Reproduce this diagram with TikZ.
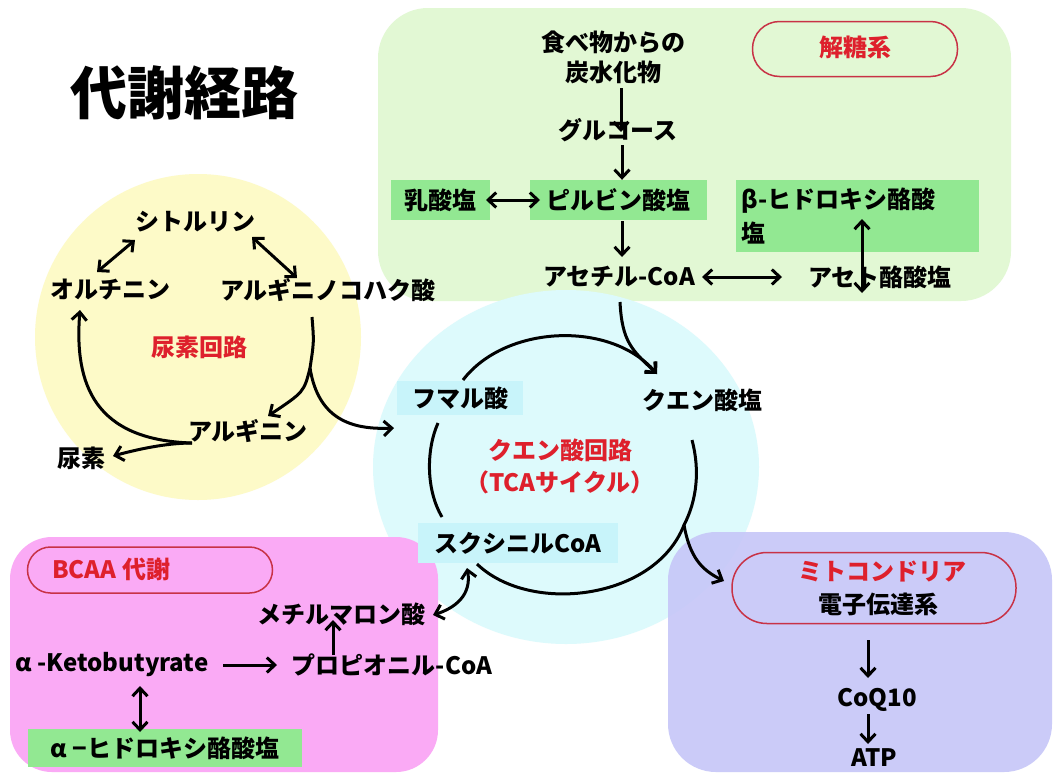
\documentclass[tikz,border=0pt]{standalone}
\usepackage{fontspec}
\setmainfont{Noto Sans CJK JP}
\usetikzlibrary{arrows.meta}
\definecolor{glyc}{RGB}{226,248,212}
\definecolor{ureabg}{RGB}{253,250,200}
\definecolor{tcabg}{RGB}{221,250,252}
\definecolor{bcaabg}{RGB}{250,170,245}
\definecolor{mitobg}{RGB}{198,198,248}
\definecolor{lgreen}{RGB}{146,232,146}
\definecolor{lcyan}{RGB}{200,244,250}
\definecolor{redtxt}{RGB}{222,32,44}
\definecolor{redline}{RGB}{200,50,70}
\begin{document}
\begin{tikzpicture}[x=1pt,y=-1pt,
  lbl/.style={font=\bfseries\fontsize{24}{28}\selectfont, inner sep=2pt, text=black},
  rlbl/.style={lbl, text=redtxt},
  gbox/.style={lbl, fill=lgreen, minimum height=40pt},
  cbox/.style={lbl, fill=lcyan, minimum height=34pt},
  tagbox/.style={draw=redline, line width=1.5pt},
  arr/.style={-{Straight Barb[length=8pt,width=15pt]}, line width=3pt},
  darr/.style={{Straight Barb[length=8pt,width=15pt]}-{Straight Barb[length=8pt,width=15pt]}, line width=3pt},
  cyc/.style={line width=3pt}
]
\useasboundingbox (0,0) rectangle (1056,774);
\fill[white] (0,0) rectangle (1056,774);
% backgrounds
\fill[glyc, rounded corners=50pt] (378,8) rectangle (1011,301);
\fill[ureabg] (198,337) circle[radius=163];
\fill[tcabg] (566,467) ellipse[x radius=193, y radius=177];
\fill[bcaabg, rounded corners=42pt] (10,537) rectangle (438,772);
\fill[mitobg, fill opacity=0.9, rounded corners=48pt] (668,532) rectangle (1052,772);

% title
\node[font=\bfseries\fontsize{57}{62}\selectfont, inner sep=0pt] (title) at (184,93) {代謝経路};

% ---------------- glycolysis ----------------
\node[tagbox, minimum width=205pt, minimum height=55pt, rounded corners=27pt] (gtag) at (855,49) {};
\node[rlbl] (gtagt) at (855,47) {解糖系};
\node[lbl, align=center, font=\bfseries\fontsize{24}{30}\selectfont] (food) at (613,57) {食べ物からの\\炭水化物};
\node[lbl] (glc) at (618,130) {グルコース};
\node[gbox, minimum width=177pt] (pyr) at (618,200) {ピルビン酸塩};
\node[gbox, minimum width=99pt] (lac) at (440,200) {乳酸塩};
\node[lbl] (acoa) at (619,277) {アセチル-CoA};
\node[lbl] (aceto) at (880,277) {アセト酪酸塩};
\node[lbl, fill=lgreen, minimum width=243pt, minimum height=72pt, align=left, anchor=north west,
      text width=232pt, font=\bfseries\fontsize{24}{34}\selectfont] (bhb) at (736,180) {β-ヒドロキシ酪酸\\塩};

\coordinate (f1) at (621,88);
\coordinate (f2) at (621,132);
\draw[arr] (f1) -- (f2);
\coordinate (g1) at (622,145);
\draw[arr] (g1) -- (pyr.north -| g1);
\coordinate (p1) at (622,221);
\coordinate (p2) at (622,257);
\draw[arr] (p1) -- (p2);
\coordinate (l1) at (486,200);
\coordinate (l2) at (540,200);
\draw[darr] (l1) -- (l2);
\coordinate (a1) at (702,277);
\coordinate (a2) at (782,277);
\draw[darr] (a1) -- (a2);
\coordinate (b1) at (862,219);
\coordinate (b2) at (862,293);
\draw[darr] (b1) -- (b2);

% ---------------- urea cycle ----------------
\node[lbl] (cit) at (195,222) {シトルリン};
\node[lbl] (orn) at (110,290) {オルチニン};
\node[lbl] (asa) at (328,290) {アルギニノコハク酸};
\node[rlbl] (ucyc) at (199,347) {尿素回路};
\node[lbl] (arg) at (248,431) {アルギニン};
\node[lbl] (urea) at (81,458) {尿素};

\coordinate (c1) at (135,240);
\coordinate (c2) at (97,272);
\draw[darr] (c1) -- (c2);
\coordinate (c3) at (252,237);
\coordinate (c4) at (297,278);
\draw[darr] (c3) -- (c4);
\coordinate (u1) at (312,317);
\coordinate (u2) at (310,368);
\coordinate (u3) at (268,416);
\coordinate (u4) at (394,428);
\draw[cyc] (u1) .. controls (314,342) .. (u2);
\draw[arr] (u2) .. controls (304,392) .. (u3);
\draw[arr] (u2) .. controls (318,418) and (350,430) .. (u4);
\coordinate (r0) at (192,443);
\coordinate (r1) at (80,310);
\coordinate (r2) at (113,456);
\draw[arr] (r0) .. controls (95,440) and (74,385) .. (r1);
\draw[arr] (r0) .. controls (165,443) and (135,450) .. (r2);

% ---------------- TCA cycle ----------------
\node[cbox, minimum width=126pt] (fum) at (460,398) {フマル酸};
\node[lbl] (cit2) at (702,400) {クエン酸塩};
\node[rlbl, align=center, font=\bfseries\fontsize{24}{32}\selectfont] (tca) at (560,466) {クエン酸回路\\（TCAサイクル）};
\node[cbox, minimum width=200pt, minimum height=40pt] (suc) at (518,543) {スクシニルCoA};

\coordinate (t1) at (463,380);
\coordinate (t2) at (657,374);
\draw[arr] (t1) .. controls (505,325) and (610,320) .. (t2);
\coordinate (t0) at (620,302);
\draw[arr] (t0) .. controls (622,342) and (632,350) .. (t2);
\coordinate (t3) at (692,440);
\coordinate (t4) at (684,525);
\coordinate (t5) at (477,564);
\draw[cyc] (t3) .. controls (700,470) and (697,500) .. (t4)
  .. controls (655,600) and (530,615) .. (t5);
\coordinate (t6) at (438,423);
\coordinate (t7) at (442,517);
\draw[cyc] (t6) .. controls (426,450) and (426,490) .. (t7);
\coordinate (m0) at (724,581);
\draw[arr] (t4) .. controls (690,558) and (702,570) .. (m0);
\coordinate (s1) at (467,568);
\coordinate (s2) at (433,615);

% ---------------- BCAA ----------------
\node[tagbox, minimum width=245pt, minimum height=46pt, rounded corners=23pt] (btag) at (150,570) {};
\node[rlbl, anchor=west] (btagt) at (50,569) {BCAA 代謝};
\node[lbl] (mma) at (341,614) {メチルマロン酸};
\node[lbl] (akb) at (112,665) {α -Ketobutyrate};
\node[lbl] (prop) at (392,665) {プロピオニル-CoA};
\node[gbox, minimum width=274pt, minimum height=38pt] (ahb) at (165,748) {α −ヒドロキシ酪酸塩};

\draw[darr] (s1) .. controls (472,595) and (455,608) .. (s2);
\coordinate (pp1) at (333,655);
\coordinate (pp2) at (333,620);
\draw[arr] (pp1) -- (pp2);
\coordinate (k1) at (223,665);
\coordinate (k2) at (277,665);
\draw[arr] (k1) -- (k2);
\coordinate (h1) at (140,686);
\coordinate (h2) at (140,732);
\draw[darr] (h1) -- (h2);

% ---------------- mitochondria ----------------
\node[tagbox, minimum width=284pt, minimum height=71pt, rounded corners=35pt] (mtag) at (874,588) {};
\node[rlbl] (mito) at (882,572) {ミトコンドリア};
\node[lbl] (etc) at (878,604) {電子伝達系};
\node[lbl] (coq) at (877,700) {CoQ10};
\node[lbl] (atp) at (874,758) {ATP};
\coordinate (e1) at (868,640);
\coordinate (e2) at (868,678);
\draw[arr] (e1) -- (e2);
\coordinate (q1) at (868,714);
\coordinate (q2) at (868,744);
\draw[arr] (q1) -- (q2);
\end{tikzpicture}
\end{document}
